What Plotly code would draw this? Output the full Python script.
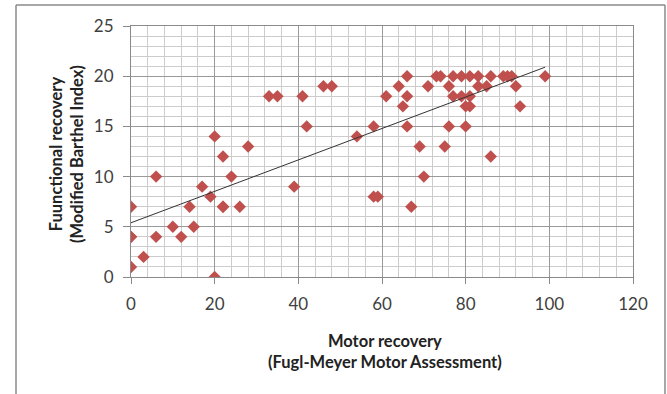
import plotly.graph_objects as go

# Data (Fugl-Meyer motor score vs Modified Barthel Index)
motor = [0, 0, 0, 0, 3, 6, 6, 10, 12, 14, 15, 17, 19, 20, 20, 22, 22, 22, 24, 26, 28,
         33, 35, 39, 41, 42, 46, 48, 54, 58, 58, 59, 61, 64, 65, 66, 66, 66, 67, 69,
         70, 71, 73, 74, 75, 76, 76, 77, 77, 79, 79, 80, 80, 81, 81, 81, 83, 83, 85,
         86, 86, 89, 90, 91, 92, 93, 99]
functional = [7, 4, 1, 4, 2, 10, 4, 5, 4, 7, 5, 9, 8, 14, 0, 12, 7, 7, 10, 7, 13,
              18, 18, 9, 18, 15, 19, 19, 14, 15, 8, 8, 18, 19, 17, 20, 18, 15, 7, 13,
              10, 19, 20, 20, 13, 19, 15, 20, 18, 20, 18, 17, 15, 20, 18, 17, 20, 19, 19,
              20, 12, 20, 20, 20, 19, 17, 20]

# Linear trend line end points as drawn in the reference
trend_x = [0, 99]
trend_y = [5.4, 20.9]

x_ticks = [0, 20, 40, 60, 80, 100, 120]
y_ticks = [0, 5, 10, 15, 20, 25]

x_title = "<b>Motor recovery<br>(Fugl-Meyer Motor Assessment)</b>"
y_title = "<b>Fuunctional recovery<br>(Modified Barthel Index)</b>"

FONT = "Lato"
W, H = 667, 394
L, R, T, B = 131, 34, 26, 117
PW, PH = W - L - R, H - T - B

fig = go.Figure()
fig.add_trace(go.Scatter(
    x=motor, y=functional, mode="markers",
    marker=dict(symbol="diamond", size=9.5, color="#C0504D", line=dict(width=0)),
    showlegend=False, hoverinfo="x+y"))
fig.add_trace(go.Scatter(
    x=trend_x, y=trend_y, mode="lines",
    line=dict(color="#333333", width=1), showlegend=False, hoverinfo="skip"))

fig.update_layout(
    width=W, height=H,
    margin=dict(l=L, r=R, t=T, b=B, autoexpand=False),
    paper_bgcolor="white", plot_bgcolor="white",
    font=dict(family=FONT, size=17, color="#404040"),
    xaxis=dict(
        range=[0, 120], tickvals=x_ticks, ticktext=[str(v) for v in x_ticks],
        showgrid=True, gridcolor="#9a9a9a", gridwidth=1,
        minor=dict(dtick=4, tick0=0, showgrid=True, gridcolor="#cccccc", gridwidth=1),
        showline=True, linecolor="#8a8a8a", linewidth=1, mirror=True,
        ticks="outside", ticklen=6, tickcolor="#8a8a8a", ticklabelstandoff=6,
        zeroline=False, fixedrange=True,
    ),
    yaxis=dict(
        range=[0, 25], tickvals=y_ticks, ticktext=[str(v) for v in y_ticks],
        showgrid=True, gridcolor="#9a9a9a", gridwidth=1,
        minor=dict(dtick=1, tick0=0, showgrid=True, gridcolor="#cccccc", gridwidth=1),
        showline=True, linecolor="#8a8a8a", linewidth=1, mirror=True,
        ticks="outside", ticklen=7, tickcolor="#8a8a8a", ticklabelstandoff=6,
        zeroline=False, fixedrange=True,
    ),
)

# Axis titles as annotations for exact placement
fig.add_annotation(text=x_title, xref="paper", yref="paper",
                   x=(385 - L) / PW, y=(H - B - 351) / PH, xanchor="center", yanchor="middle",
                   showarrow=False, font=dict(family=FONT, size=16.5, color="#222222"))
fig.add_annotation(text=y_title, xref="paper", yref="paper", textangle=-90,
                   x=(66 - L) / PW, y=(H - B - 154) / PH, xanchor="center", yanchor="middle",
                   showarrow=False, font=dict(family=FONT, size=16.5, color="#222222"))

# Outer chart frame (left, top, right edges)
def px_x(v):
    return (v - L) / PW

def px_y(v):
    return (H - B - v) / PH

frame = dict(type="line", xref="paper", yref="paper", line=dict(color="#8a8a8a", width=1.5))
fig.add_shape(**frame, x0=px_x(16), x1=px_x(16), y0=px_y(400), y1=px_y(5))
fig.add_shape(**frame, x0=px_x(16), x1=px_x(665), y0=px_y(5), y1=px_y(5))
fig.add_shape(**frame, x0=px_x(665), x1=px_x(665), y0=px_y(400), y1=px_y(5))

fig.write_html("out.html", config={"displayModeBar": False},
               post_script="document.body.style.margin='0';")
